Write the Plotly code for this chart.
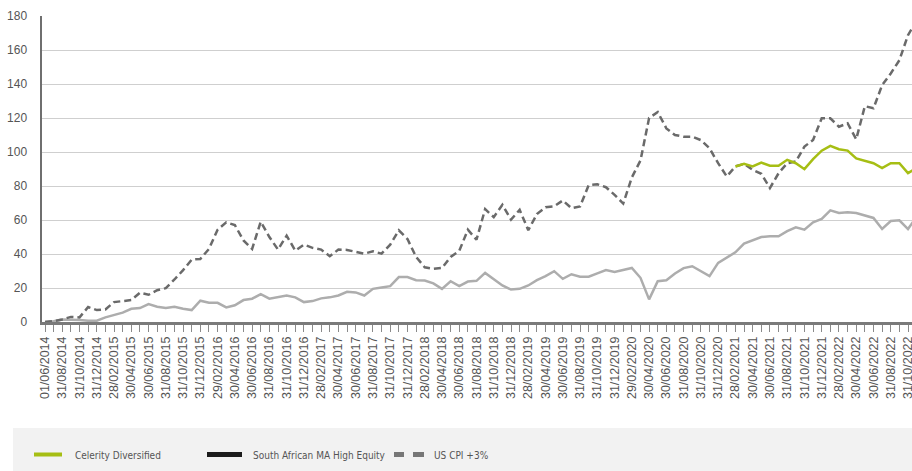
import pandas as pd
import plotly.graph_objects as go

# ---- data ----
categories = ["01/06/2014"] + [d.strftime("%d/%m/%Y") for d in pd.date_range("2014-07-31", periods=101, freq="ME")]

sa_ma_high_equity = [
    0, 0.4, 1.5, 1.5, 1.2, 0.8, 0.8, 2.7, 3.9, 5.5,
    7.8, 8.2, 10.5, 9, 8.2, 9, 7.8, 7, 12.5, 11.3,
    11.3, 8.6, 9.8, 12.9, 13.7, 16.4, 13.7, 14.8, 15.6, 14.5,
    11.7, 12.3, 13.9, 14.5, 15.6, 17.8, 17.4, 15.6, 19.5, 20.3,
    21.1, 26.4, 26.4, 24.6, 24.4, 22.7, 19.5, 24, 21.1, 23.8,
    24.2, 28.9, 25, 21.5, 19.1, 19.5, 21.5, 24.6, 27, 29.9,
    25.4, 28.1, 26.6, 26.6, 28.6, 30.6, 29.5, 30.8, 31.8, 26,
    13.3, 24, 24.6, 28.5, 31.7, 32.8, 29.9, 27, 34.8, 37.7,
    41, 46.1, 48.1, 50, 50.4, 50.4, 53.4, 55.7, 54.3, 58.6,
    60.6, 65.7, 64.1, 64.5, 64.1, 62.5, 61.2, 54.7, 59.4, 59.8,
    54.7, 61.8,
]

us_cpi_plus3 = [
    0, 0.5, 1.5, 3, 2.7, 8.8, 7, 7.4, 11.7, 12.5,
    12.9, 17.2, 16, 18.7, 19.9, 25, 30.5, 36.7, 37.1, 43,
    54.3, 58.6, 57, 48, 43, 59, 50, 42.6, 50.8, 42,
    45.5, 43.6, 42.6, 38.7, 42.6, 42.4, 41.4, 40.2, 41.6, 40.2,
    45.5, 53.9, 48.8, 38.3, 32.2, 31.3, 31.8, 38.3, 41.8, 54.3,
    48.4, 66.4, 61.7, 68.9, 60.2, 66, 54, 63.5, 67.5, 68,
    71.5, 67, 68, 80.5, 81, 79.3, 74.8, 69.7, 85, 95,
    120, 123.5, 113.9, 110, 109, 109, 107, 102.2, 93.4, 85.6,
    91.5, 93, 89.5, 87.2, 78.8, 87.5, 93.4, 94.4, 103.2, 107.1,
    119.8, 119.8, 114.9, 116.9, 107.5, 127, 125.7, 139.3, 146.2, 154,
    168.7, 177.5,
]

celerity_start = 80
celerity_diversified = [
    91.5, 93, 91.5, 93.8, 91.9, 91.9, 95.4, 93.4, 89.9, 95.8,
    100.8, 103.6, 101.6, 100.8, 96.2, 95, 93.4, 90.5, 93.4, 93.4,
    87.6, 90.5,
]

y_ticks = [0, 20, 40, 60, 80, 100, 120, 140, 160, 180]
legend_names = ["Celerity Diversified", "South African MA High Equity", "US CPI +3%"]

# ---- styling ----
LIME = "#a6be14"
LIGHT_GREY = "#adadad"
DARK_GREY = "#6a6a6a"
TEXT = "#555555"

W, H = 912, 471
ML, MR, MT, MB = 42, 0, 16, 149
PW, PH = W - ML - MR, H - MT - MB


def px(x):
    return (x - ML) / PW


def py(y):
    return (H - MB - y) / PH


fig = go.Figure()
fig.add_trace(go.Scatter(x=categories, y=sa_ma_high_equity, mode="lines",
                         line=dict(color=LIGHT_GREY, width=2.5), name=legend_names[1],
                         showlegend=False))
fig.add_trace(go.Scatter(x=categories, y=us_cpi_plus3, mode="lines",
                         line=dict(color=DARK_GREY, width=2.5, dash="7px,4px"),
                         name=legend_names[2], showlegend=False))
fig.add_trace(go.Scatter(x=categories[celerity_start:celerity_start + len(celerity_diversified)],
                         y=celerity_diversified, mode="lines",
                         line=dict(color=LIME, width=2.5), name=legend_names[0],
                         showlegend=False))

ticktext = [c if i % 2 == 0 else "" for i, c in enumerate(categories)]

spacing = 8.63
x0 = -3 / spacing
x1 = x0 + PW / spacing

fig.update_xaxes(
    type="category", range=[x0, x1], automargin=False,
    tickmode="array", tickvals=categories, ticktext=ticktext,
    tickangle=-90, ticks="outside", ticklen=7, tickcolor="#8a8a8a", tickwidth=1,
    tickfont=dict(family="Liberation Sans, Arial", size=12.5, color=TEXT),
    showline=True, linecolor="#7a7a7a", linewidth=2.5,
    showgrid=False, zeroline=False, fixedrange=True,
)
fig.update_yaxes(
    range=[0, 180], tickmode="array", tickvals=y_ticks, automargin=False,
    tickfont=dict(family="Liberation Sans, Arial", size=12, color=TEXT),
    ticks="", ticklabelstandoff=10,
    showline=True, linecolor="#6f6f6f", linewidth=2.5,
    showgrid=True, gridcolor="#cfcfcf", gridwidth=1, zeroline=False,
    fixedrange=True,
)

shapes = [
    # legend band
    dict(type="rect", xref="paper", yref="paper", x0=px(13), x1=px(912), y0=py(471), y1=py(428),
         fillcolor="#f2f2f2", line=dict(width=0), layer="below"),
    # legend keys
    dict(type="line", xref="paper", yref="paper", x0=px(34), x1=px(62), y0=py(454.5), y1=py(454.5),
         line=dict(color=LIME, width=4)),
    dict(type="line", xref="paper", yref="paper", x0=px(207), x1=px(242), y0=py(454.5), y1=py(454.5),
         line=dict(color="#1c1c1c", width=5)),
    dict(type="line", xref="paper", yref="paper", x0=px(394), x1=px(404), y0=py(454.5), y1=py(454.5),
         line=dict(color="#777777", width=5)),
    dict(type="line", xref="paper", yref="paper", x0=px(413), x1=px(424), y0=py(454.5), y1=py(454.5),
         line=dict(color="#777777", width=5)),
]

leg_font = dict(family="DejaVu Sans Condensed, Liberation Sans Narrow, Arial", size=10, color=TEXT)
annotations = [
    dict(xref="paper", yref="paper", x=px(73), y=py(455), xanchor="left", yanchor="middle",
         text=legend_names[0], showarrow=False, font=leg_font),
    dict(xref="paper", yref="paper", x=px(251), y=py(455), xanchor="left", yanchor="middle",
         text=legend_names[1], showarrow=False, font=leg_font),
    dict(xref="paper", yref="paper", x=px(432), y=py(455), xanchor="left", yanchor="middle",
         text=legend_names[2], showarrow=False, font=leg_font),
    # chart subtitle, mostly cut off above the top edge in the reference
    dict(xref="paper", yref="paper", x=px(40), y=py(0.5), xanchor="left", yanchor="bottom",
         text="Cumulative performance (%), since inception, in rand, net of fees",
         showarrow=False, font=dict(family="Liberation Sans, Arial", size=11, color="#9a9a9a")),
]

fig.update_layout(
    width=W, height=H,
    margin=dict(l=ML, r=MR, t=MT, b=MB, pad=0),
    paper_bgcolor="white", plot_bgcolor="white",
    showlegend=False, shapes=shapes, annotations=annotations,
)

fig.write_html("out.html", config={"displayModeBar": False, "staticPlot": True},
               post_script="document.body.style.margin='0';document.body.style.overflow='hidden';")
